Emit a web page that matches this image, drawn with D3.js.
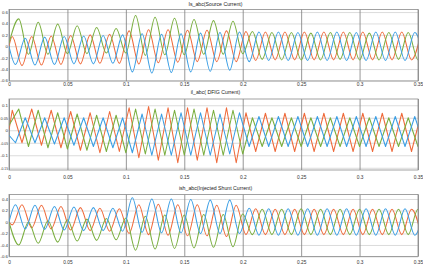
<!DOCTYPE html>
<html lang="en">
<head>
<meta charset="UTF-8">
<title>Scope traces</title>
<script src="https://cdnjs.cloudflare.com/ajax/libs/d3/7.8.5/d3.min.js"></script>
<style>
  html, body { margin: 0; padding: 0; background: #fff; }
  svg { display: block; font-family: "Liberation Sans", Arial, sans-serif; }
</style>
</head>
<body>
<svg id="chart" width="423" height="269"></svg>
<script>
// extrema sit on a grid of 1/360 s (six steps per 60 Hz cycle)
const gridStep = 1 / 360;

const timeTicks = [0, 0.05, 0.1, 0.15, 0.2, 0.25, 0.3, 0.35];
const timeLabels = ["0", "0.05", "0.1", "0.15", "0.2", "0.25", "0.3", "0.35"];

// each trace: value at t=0, then successive peak/trough values
// Is_abc
const isTitle = "Is_abc(Source Current)";
const isTicks = [-0.6, -0.4, -0.2, 0, 0.2, 0.4, 0.6];
const isLabels = ["-0.6", "-0.4", "-0.2", "0", "0.2", "0.4", "0.6"];
const isOrange = [0,
  0.17, -0.34, 0.17, -0.33, 0.18, -0.32, 0.19, -0.31, 0.20, -0.30, 0.21, -0.30,
  0.27, -0.31, 0.29, -0.29, 0.29, -0.28, 0.28, -0.27, 0.28, -0.27, 0.27, -0.27,
  0.26, -0.25, 0.25, -0.24, 0.25, -0.24, 0.25, -0.24, 0.25, -0.24, 0.25, -0.24, 0.25, -0.24, 0.25, -0.24, 0.25, -0.24, 0.25];
const isBlue = [0,
  -0.32, 0.14, -0.33, 0.16, -0.32, 0.17, -0.31, 0.18, -0.31, 0.19, -0.30, 0.20,
  -0.45, 0.22, -0.47, 0.21, -0.46, 0.22, -0.45, 0.23, -0.44, 0.24, -0.42, 0.25,
  -0.27, 0.25, -0.25, 0.25, -0.25, 0.24, -0.25, 0.25, -0.25, 0.25, -0.25, 0.24, -0.25, 0.25, -0.25, 0.25, -0.25, 0.24, -0.25];
const isGreen = [0.05,
  0.48, -0.14, 0.42, -0.14, 0.39, -0.13, 0.36, -0.13, 0.33, -0.12, 0.31, -0.12,
  0.54, -0.16, 0.51, -0.15, 0.49, -0.15, 0.47, -0.14, 0.45, -0.14, 0.44, -0.13,
  0.26, -0.23, 0.24, -0.24, 0.24, -0.24, 0.23, -0.24, 0.24, -0.23, 0.24, -0.24, 0.23, -0.24, 0.24, -0.23, 0.24, -0.24, 0.23];

// il_abc
const ilTitle = "il_abc( DFIG Current)";
const ilTicks = [-0.15, -0.1, -0.05, 0, 0.05, 0.1];
const ilLabels = ["-0.15", "-0.1", "-0.05", "0", "0.05", "0.1"];
const ilOrange = [0,
  0.08, -0.05, 0.085, -0.06, 0.08, -0.07, 0.075, -0.08, 0.07, -0.09, 0.075, -0.085,
  0.09, -0.11, 0.095, -0.12, 0.09, -0.13, 0.09, -0.12, 0.09, -0.13, 0.09, -0.13,
  0.07, -0.085, 0.068, -0.085, 0.068, -0.085, 0.068, -0.085, 0.068, -0.085, 0.068, -0.085, 0.068, -0.085, 0.068, -0.085, 0.068, -0.085, 0.068];
const ilBlue = [-0.02,
  -0.05, 0.05, -0.05, 0.05, -0.055, 0.05, -0.06, 0.05, -0.065, 0.05, -0.07, 0.05,
  -0.09, 0.065, -0.10, 0.065, -0.10, 0.07, -0.10, 0.07, -0.10, 0.065, -0.095, 0.07,
  -0.065, 0.055, -0.065, 0.055, -0.065, 0.055, -0.065, 0.055, -0.065, 0.055, -0.065, 0.055, -0.065, 0.055, -0.065, 0.055, -0.065, 0.055, -0.065];
const ilGreen = [0.02,
  0.085, -0.065, 0.08, -0.07, 0.07, -0.075, 0.065, -0.08, 0.06, -0.085, 0.06, -0.09,
  0.085, -0.095, 0.085, -0.10, 0.08, -0.10, 0.085, -0.10, 0.08, -0.10, 0.08, -0.095,
  0.05, -0.065, 0.05, -0.065, 0.05, -0.065, 0.05, -0.065, 0.05, -0.065, 0.05, -0.065, 0.05, -0.065, 0.05, -0.065, 0.05, -0.065, 0.05];

// ish_abc
const ishTitle = "ish_abc(Injected Shunt Current)";
const ishTicks = [-0.6, -0.4, -0.2, 0, 0.2, 0.4];
const ishLabels = ["-0.6", "-0.4", "-0.2", "0", "0.2", "0.4"];
const ishOrange = [0,
  -0.05, 0.30, -0.10, 0.29, -0.12, 0.27, -0.14, 0.25, -0.15, 0.24, -0.16, 0.23,
  -0.20, 0.30, -0.22, 0.31, -0.23, 0.30, -0.24, 0.30, -0.24, 0.29, -0.25, 0.29,
  -0.22, 0.23, -0.22, 0.22, -0.22, 0.22, -0.22, 0.22, -0.22, 0.22, -0.22, 0.22, -0.22, 0.22, -0.22, 0.22, -0.22, 0.22, -0.22];
const ishBlue = [0,
  0.30, -0.12, 0.29, -0.13, 0.27, -0.14, 0.26, -0.15, 0.25, -0.15, 0.24, -0.16,
  0.42, -0.18, 0.40, -0.19, 0.40, -0.19, 0.39, -0.20, 0.38, -0.20, 0.38, -0.20,
  0.24, -0.23, 0.23, -0.23, 0.23, -0.23, 0.23, -0.23, 0.23, -0.23, 0.23, -0.23, 0.23, -0.23, 0.23, -0.23, 0.23, -0.23, 0.23];
const ishGreen = [0,
  -0.40, 0.00, -0.37, 0.02, -0.35, 0.04, -0.33, 0.05, -0.32, 0.06, -0.31, 0.07,
  -0.49, 0.10, -0.47, 0.12, -0.46, 0.12, -0.45, 0.13, -0.44, 0.13, -0.43, 0.14,
  -0.22, 0.22, -0.22, 0.22, -0.22, 0.23, -0.22, 0.22, -0.22, 0.22, -0.22, 0.22, -0.22, 0.22, -0.22, 0.22, -0.22, 0.22, -0.22];

const colors = { blue: "#3a9ee4", orange: "#ef6a3b", green: "#79ae3e" };

// first extremum of each phase on the grid (index 1, 2 or 3)
const firstIndex = { orange: 1, blue: 2, green: 3 };

function toPoints(values, start) {
  return values.map((v, i) => ({ t: i === 0 ? 0 : (start + 3 * (i - 1)) * gridStep, v: v }));
}

const svg = d3.select("#chart");
const x = d3.scaleLinear().domain([0, 0.35]).range([9, 418]);
const plotW = x.range()[1] - x.range()[0];

const panels = [
  { title: isTitle, ticks: isTicks, labels: isLabels, top: 9.5, bottom: 81, domain: [-0.61, 0.645],
    titleY: 4.5, pad: 2, curve: d3.curveMonotoneX,
    series: [["orange", isOrange], ["green", isGreen], ["blue", isBlue]] },
  { title: ilTitle, ticks: ilTicks, labels: ilLabels, top: 99, bottom: 170, domain: [-0.159, 0.125],
    titleY: 93, pad: 5.5, curve: d3.curveLinear,
    series: [["orange", ilOrange], ["green", ilGreen], ["blue", ilBlue]] },
  { title: ishTitle, ticks: ishTicks, labels: ishLabels, top: 194.5, bottom: 256.5, domain: [-0.6, 0.478],
    titleY: 188.5, pad: 4, curve: d3.curveMonotoneX,
    series: [["orange", ishOrange], ["green", ishGreen], ["blue", ishBlue]] }
];

panels.forEach((p, n) => {
  const y = d3.scaleLinear().domain(p.domain).range([p.bottom, p.top]);
  const g = svg.append("g");

  // horizontal grid
  g.append("g")
    .attr("transform", `translate(${x.range()[0]},0)`)
    .call(d3.axisLeft(y).tickValues(p.ticks).tickSize(-plotW).tickFormat(""))
    .call(a => a.select(".domain").remove())
    .call(a => a.selectAll("line").attr("stroke", "#d2d2d2").attr("stroke-width", 0.8));

  // vertical grid
  g.append("g")
    .attr("transform", `translate(0,${p.bottom})`)
    .call(d3.axisBottom(x).tickValues(timeTicks).tickSize(-(p.bottom - p.top)).tickFormat(""))
    .call(a => a.select(".domain").remove())
    .call(a => a.selectAll("line").attr("stroke", "#7c7c7c").attr("stroke-width", 0.8));

  // traces
  g.append("clipPath").attr("id", "clip" + n)
    .append("rect")
    .attr("x", x.range()[0]).attr("y", p.top)
    .attr("width", plotW).attr("height", p.bottom - p.top);

  const line = d3.line().x(d => x(d.t)).y(d => y(d.v)).curve(p.curve);
  g.append("g").attr("clip-path", `url(#clip${n})`)
    .selectAll("path")
    .data(p.series)
    .join("path")
    .attr("d", d => line(toPoints(d[1], firstIndex[d[0]])))
    .attr("fill", "none")
    .attr("stroke", d => colors[d[0]])
    .attr("stroke-width", 1.05)
    .attr("stroke-linejoin", "round");

  // frame
  g.append("rect")
    .attr("x", x.range()[0]).attr("y", p.top)
    .attr("width", plotW).attr("height", p.bottom - p.top)
    .attr("fill", "none").attr("stroke", "#8a8a8a").attr("stroke-width", 0.8);

  // tick labels (squeeze the widest ones so they stay inside the left edge)
  g.append("g")
    .attr("transform", `translate(${x.range()[0]},0)`)
    .call(d3.axisLeft(y).tickValues(p.ticks).tickFormat((d, i) => p.labels[i]).tickSize(0).tickPadding(1))
    .call(a => a.select(".domain").remove())
    .call(a => a.selectAll("text").attr("font-size", 4.4).attr("fill", "#333").attr("font-family", null))
    .call(a => a.selectAll("text").each(function () {
      if (this.getComputedTextLength() > 7.6) {
        d3.select(this).attr("textLength", 7.6).attr("lengthAdjust", "spacingAndGlyphs");
      }
    }));

  g.append("g")
    .attr("transform", `translate(0,${p.bottom})`)
    .call(d3.axisBottom(x).tickValues(timeTicks).tickFormat((d, i) => timeLabels[i]).tickSize(0).tickPadding(p.pad))
    .call(a => a.select(".domain").remove())
    .call(a => a.selectAll("text").attr("font-size", 4.8).attr("fill", "#333").attr("font-family", null));

  // title
  g.append("text")
    .attr("x", (x.range()[0] + x.range()[1]) / 2 + 2)
    .attr("y", p.titleY)
    .attr("text-anchor", "middle")
    .attr("dominant-baseline", "middle")
    .attr("font-size", 5.2)
    .attr("fill", "#222")
    .text(p.title);
});
</script>
</body>
</html>
